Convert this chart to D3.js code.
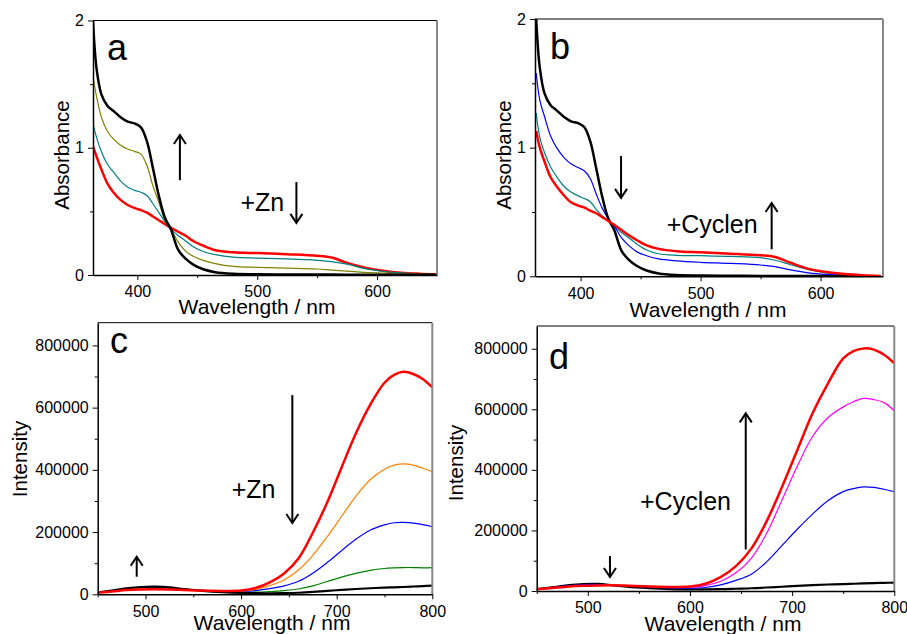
<!DOCTYPE html>
<html>
<head>
<meta charset="utf-8">
<script src="https://cdn.jsdelivr.net/npm/d3@7"></script>
<style>
  body { margin: 0; background: #fff; }
  svg text { font-family: "Liberation Sans", Arial, sans-serif; fill: #000; }
</style>
</head>
<body>
<div id="chart"></div>
<script>
// absorption spectra (a, b)
const absWl = [363, 366, 370, 375, 380, 386, 392, 398, 403, 408, 413, 418, 423, 428, 434, 440, 447, 455, 465, 480, 500, 525, 550, 562, 575, 590, 605, 620, 635, 650];
const absBlack = [2.0, 1.62, 1.42, 1.33, 1.29, 1.24, 1.205, 1.19, 1.16, 1.05, 0.84, 0.62, 0.45, 0.36, 0.2, 0.13, 0.08, 0.045, 0.022, 0.01, 0.006, 0.004, 0.003, 0.003, 0.002, 0.002, 0.001, 0.001, 0.001, 0.001];
const absOliveA = [1.56, 1.40, 1.24, 1.13, 1.07, 1.02, 0.99, 0.97, 0.95, 0.86, 0.70, 0.57, 0.43, 0.36, 0.26, 0.19, 0.145, 0.115, 0.09, 0.068, 0.06, 0.054, 0.047, 0.038, 0.03, 0.02, 0.014, 0.01, 0.006, 0.003];
const absTealA = [1.19, 1.08, 0.97, 0.87, 0.81, 0.74, 0.69, 0.665, 0.65, 0.625, 0.56, 0.49, 0.42, 0.36, 0.31, 0.27, 0.22, 0.185, 0.16, 0.14, 0.133, 0.126, 0.115, 0.105, 0.085, 0.05, 0.029, 0.016, 0.008, 0.003];
const absRedA = [1.01, 0.93, 0.83, 0.72, 0.65, 0.59, 0.55, 0.525, 0.51, 0.49, 0.46, 0.43, 0.40, 0.37, 0.34, 0.31, 0.265, 0.23, 0.195, 0.178, 0.172, 0.163, 0.151, 0.137, 0.095, 0.058, 0.034, 0.018, 0.01, 0.005];
const absBlueB = [1.58, 1.37, 1.24, 1.09, 1.0, 0.925, 0.875, 0.845, 0.82, 0.76, 0.64, 0.53, 0.45, 0.39, 0.30, 0.24, 0.19, 0.16, 0.135, 0.12, 0.109, 0.10, 0.088, 0.075, 0.05, 0.027, 0.015, 0.009, 0.005, 0.002];
const absTealB = [1.27, 1.08, 0.96, 0.85, 0.775, 0.70, 0.655, 0.625, 0.605, 0.58, 0.52, 0.47, 0.43, 0.39, 0.34, 0.30, 0.25, 0.205, 0.175, 0.163, 0.16, 0.155, 0.145, 0.125, 0.09, 0.052, 0.027, 0.014, 0.007, 0.003];
const absRedB = [1.13, 1.0, 0.89, 0.77, 0.70, 0.63, 0.575, 0.55, 0.535, 0.51, 0.49, 0.46, 0.43, 0.40, 0.36, 0.32, 0.28, 0.24, 0.213, 0.195, 0.186, 0.176, 0.163, 0.15, 0.105, 0.058, 0.033, 0.018, 0.009, 0.003];

// emission spectra (c, d)
const emWl = [450, 465, 480, 495, 510, 525, 540, 560, 580, 600, 615, 630, 645, 660, 675, 690, 705, 720, 735, 750, 760, 770, 780, 790, 800];
const emRedC = [5000, 9000, 13500, 15500, 16000, 15500, 14000, 12000, 11000, 12000, 20000, 38000, 67000, 115000, 198000, 295000, 407000, 517000, 609000, 680000, 705000, 715000, 708000, 692000, 665000];
const emOrangeC = [5000, 10000, 15000, 18000, 18500, 17000, 15000, 12000, 10000, 10500, 16000, 28000, 46000, 78000, 125000, 185000, 250000, 315000, 368000, 402000, 415000, 419000, 415000, 405000, 394000];
const emBlueC = [5000, 11000, 17000, 20500, 21000, 19500, 16500, 12500, 9500, 9000, 12000, 18000, 27000, 42000, 68000, 102000, 140000, 177000, 206000, 223000, 230000, 231000, 229000, 224000, 217000];
const emGreenC = [5000, 12000, 19000, 22500, 23000, 21000, 17000, 12000, 8000, 6500, 7000, 9000, 12000, 17000, 27000, 41000, 55000, 67000, 77000, 83000, 85000, 86000, 86000, 85000, 86000];
const emBlackC = [6000, 12000, 19000, 23500, 24500, 22500, 17000, 11000, 7000, 4500, 3500, 3000, 3500, 5000, 7500, 11000, 14000, 17000, 19500, 21500, 22500, 23500, 25000, 26500, 28000];
const emRedD = [5500, 10000, 14000, 17000, 18500, 19000, 17500, 15000, 13500, 14500, 24000, 46000, 82000, 140000, 230000, 343000, 465000, 587000, 685000, 768000, 792000, 801000, 797000, 780000, 752000];
const emMagentaD = [5500, 10000, 14500, 17500, 18500, 18500, 17000, 14500, 12500, 13000, 18000, 32000, 60000, 108000, 190000, 300000, 412000, 510000, 572000, 608000, 625000, 636000, 632000, 622000, 595000];
const emBlueD = [5500, 11500, 17000, 21000, 21500, 19500, 17000, 13000, 10000, 9500, 11500, 20000, 35000, 55000, 96000, 150000, 204000, 254000, 298000, 328000, 338000, 344000, 342000, 336000, 328000];
const emBlackD = [6000, 12000, 18500, 23000, 23500, 18500, 13500, 9500, 6500, 5500, 5500, 6000, 7500, 9000, 11500, 14000, 17000, 19500, 21500, 23000, 24000, 25000, 26000, 27000, 27500];

const absTicks = [400, 500, 600], absMinor = [450, 550];
const absYTicks = [0, 1, 2], absYMinor = [0.5, 1.5];
const emTicks = [500, 600, 700, 800], emMinor = [450, 550, 650, 750];
const emYTicks = [0, 200000, 400000, 600000, 800000], emYMinor = [100000, 300000, 500000, 700000];

const svg = d3.select("#chart").append("svg").attr("width", 907).attr("height", 634);

function arrow(g, x, y, xv, yFrom, yTo) {
  const px = x(xv), p1 = y(yFrom), p2 = y(yTo);
  const dir = p2 < p1 ? 1 : -1; // 1 = pointing up
  g.append("line").attr("x1", px).attr("x2", px).attr("y1", p1).attr("y2", p2)
    .attr("stroke", "#000").attr("stroke-width", 2);
  g.append("path")
    .attr("d", `M${px - 6},${p2 + dir * 9} L${px},${p2} L${px + 6},${p2 + dir * 9}`)
    .attr("fill", "none").attr("stroke", "#000").attr("stroke-width", 2);
}

function panel(cfg) {
  const x = d3.scaleLinear().domain(cfg.xDomain).range([cfg.left, cfg.right]);
  const y = d3.scaleLinear().domain(cfg.yDomain).range([cfg.bottom, cfg.top]);
  const g = svg.append("g");

  g.append("clipPath").attr("id", "clip-" + cfg.name)
    .append("rect")
    .attr("x", cfg.left).attr("y", cfg.top)
    .attr("width", cfg.right - cfg.left).attr("height", cfg.bottom - cfg.top);

  const line = d3.line()
    .x((d) => x(d[0]))
    .y((d) => y(d[1]))
    .curve(d3.curveCatmullRom.alpha(0.5));

  cfg.series.forEach((s) => {
    g.append("path")
      .datum(d3.zip(cfg.wl, s.values))
      .attr("clip-path", `url(#clip-${cfg.name})`)
      .attr("fill", "none")
      .attr("stroke", s.color)
      .attr("stroke-width", s.width)
      .attr("stroke-linejoin", "round")
      .attr("d", line);
  });

  // top and right frame
  g.append("line").attr("x1", cfg.left).attr("x2", cfg.right).attr("y1", cfg.top).attr("y2", cfg.top)
    .attr("stroke", "#000").attr("stroke-width", 1);
  g.append("line").attr("x1", cfg.right).attr("x2", cfg.right).attr("y1", cfg.top).attr("y2", cfg.bottom)
    .attr("stroke", "#888").attr("stroke-width", 2);

  // minor ticks
  g.append("g").attr("transform", `translate(0,${cfg.bottom})`)
    .call(d3.axisBottom(x).tickValues(cfg.xMinor).tickSize(3).tickFormat(""))
    .call((a) => a.select(".domain").remove());
  g.append("g").attr("transform", `translate(${cfg.left},0)`)
    .call(d3.axisLeft(y).tickValues(cfg.yMinor).tickSize(3).tickFormat(""))
    .call((a) => a.select(".domain").remove());

  // major axes
  const xa = g.append("g").attr("transform", `translate(0,${cfg.bottom})`)
    .call(d3.axisBottom(x).tickValues(cfg.xTicks).tickSize(5).tickSizeOuter(0).tickPadding(6).tickFormat(d3.format("d")));
  const ya = g.append("g").attr("transform", `translate(${cfg.left},0)`)
    .call(d3.axisLeft(y).tickValues(cfg.yTicks).tickSize(5).tickSizeOuter(0).tickPadding(4).tickFormat(d3.format("d")));
  [xa, ya].forEach((a) => {
    a.selectAll("text").style("font-size", "16px").attr("fill", "#000");
    a.select(".domain").attr("stroke-width", 1.5);
  });

  // axis titles
  g.append("text")
    .attr("x", cfg.xTitle[0]).attr("y", cfg.xTitle[1])
    .attr("text-anchor", "middle")
    .style("font-size", "21px")
    .text("Wavelength / nm");
  g.append("text")
    .attr("transform", `translate(${cfg.yTitle[0]},${cfg.yTitle[1]}) rotate(-90)`)
    .attr("text-anchor", "middle")
    .style("font-size", "20.5px")
    .text(cfg.yLabel);

  // panel letter
  g.append("text")
    .attr("x", x(cfg.letter[1])).attr("y", y(cfg.letter[2]))
    .style("font-size", "36px")
    .text(cfg.letter[0]);

  // annotations
  cfg.arrows.forEach((a) => arrow(g, x, y, a[0], a[1], a[2]));
  g.append("text")
    .attr("x", x(cfg.note[1])).attr("y", y(cfg.note[2]))
    .style("font-size", "25px")
    .text(cfg.note[0]);
}

panel({
  name: "a", left: 93, right: 437, top: 20.5, bottom: 275,
  xDomain: [363, 650], yDomain: [0, 2],
  wl: absWl,
  series: [
    { values: absRedA, color: "#ff0000", width: 2.5 },
    { values: absTealA, color: "#008080", width: 1.2 },
    { values: absOliveA, color: "#808000", width: 1.2 },
    { values: absBlack, color: "#000000", width: 2.5 },
  ],
  xTicks: absTicks, xMinor: absMinor, yTicks: absYTicks, yMinor: absYMinor,
  xTitle: [257, 314], yTitle: [69, 155], yLabel: "Absorbance",
  letter: ["a", 374.7, 1.69],
  arrows: [[435.5, 0.745, 1.10], [532.7, 0.73, 0.41]],
  note: ["+Zn", 486, 0.505],
});

panel({
  name: "b", left: 535, right: 883, top: 19, bottom: 276.3,
  xDomain: [362, 652], yDomain: [0, 2],
  wl: absWl,
  series: [
    { values: absTealB, color: "#008080", width: 1.2 },
    { values: absBlueB, color: "#0000ff", width: 1.2 },
    { values: absBlack, color: "#000000", width: 2.5 },
    { values: absRedB, color: "#ff0000", width: 2.5 },
  ],
  xTicks: absTicks, xMinor: absMinor, yTicks: absYTicks, yMinor: absYMinor,
  xTitle: [708, 317], yTitle: [511, 155], yLabel: "Absorbance",
  letter: ["b", 374.5, 1.69],
  arrows: [[433.7, 0.935, 0.61], [559.2, 0.21, 0.57]],
  note: ["+Cyclen", 471.7, 0.337],
});

panel({
  name: "c", left: 97.7, right: 432.3, top: 322.7, bottom: 594.3,
  xDomain: [450, 800], yDomain: [0, 873000],
  wl: emWl,
  series: [
    { values: emGreenC, color: "#008000", width: 1.2 },
    { values: emBlueC, color: "#0000ff", width: 1.2 },
    { values: emOrangeC, color: "#ff8000", width: 1.2 },
    { values: emBlackC, color: "#000000", width: 2.2 },
    { values: emRedC, color: "#ff0000", width: 2.5 },
  ],
  xTicks: emTicks, xMinor: emMinor, yTicks: emYTicks, yMinor: emYMinor,
  xTitle: [272, 630], yTitle: [27, 459], yLabel: "Intensity",
  letter: ["c", 462.9, 776200],
  arrows: [[490.8, 56500, 120800], [653.6, 640300, 229000]],
  note: ["+Zn", 590.2, 308400],
});

panel({
  name: "d", left: 536.7, right: 894.3, top: 326, bottom: 591,
  xDomain: [450, 800], yDomain: [0, 875000],
  wl: emWl,
  series: [
    { values: emBlackD, color: "#000000", width: 2.2 },
    { values: emBlueD, color: "#0000ff", width: 1.2 },
    { values: emMagentaD, color: "#ff00ff", width: 1.2 },
    { values: emRedD, color: "#ff0000", width: 2.5 },
  ],
  xTicks: emTicks, xMinor: emMinor, yTicks: emYTicks, yMinor: emYMinor,
  xTitle: [723, 631], yTitle: [463, 463], yLabel: "Intensity",
  letter: ["d", 462, 732700],
  arrows: [[521.7, 115500, 46200], [654.6, 137600, 586500]],
  note: ["+Cyclen", 551.1, 267300],
});
</script>
</body>
</html>
